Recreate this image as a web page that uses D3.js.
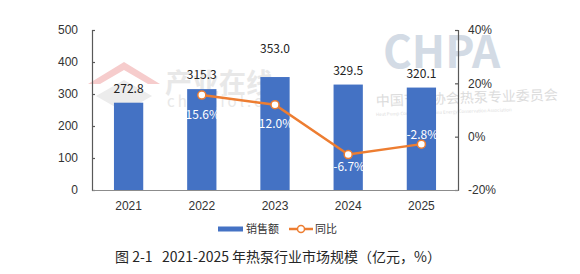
<!DOCTYPE html>
<html>
<head>
<meta charset="utf-8">
<script src="https://cdn.jsdelivr.net/npm/d3@7/dist/d3.min.js"></script>
<style>
  html, body { margin: 0; padding: 0; background: #fff; }
  svg { display: block; font-family: "Noto Sans CJK SC", "Noto Sans", sans-serif; }
</style>
</head>
<body>
<svg id="chart" width="580" height="274"></svg>
<script>
const years = ["2021", "2022", "2023", "2024", "2025"];
const sales = [272.8, 315.3, 353.0, 329.5, 320.1];
const growth = [null, 15.6, 12.0, -6.7, -2.8];
const leftTicks = [0, 100, 200, 300, 400, 500];
const rightTicks = [-20, 0, 20, 40];
const seriesNames = ["销售额", "同比"];
const caption = "图 2-1   2021-2025 年热泵行业市场规模（亿元，%）";

const svg = d3.select("#chart");
const L = 92, R = 458, T = 30, B = 190;
const blue = "#4472C4", orange = "#ED7D31";

const x = d3.scaleBand().domain(years).range([L, R]).paddingInner(0.6).paddingOuter(0.3);
const yL = d3.scaleLinear().domain([0, 500]).range([B, T]);
const yR = d3.scaleLinear().domain([-20, 40]).range([B, T]);

// watermarks (behind)
const wm = svg.append("g");
wm.append("path").attr("d", "M88,84 L124,62 L160,84 L148,84 L124,70 L100,84 Z").attr("fill", "#f6cccc");
wm.append("path").attr("d", "M96,96 L124,80 L152,96 L124,112 Z").attr("fill", "#ececec");
wm.append("text").attr("x", 165).attr("y", 93).attr("font-size", 27).attr("font-weight", "bold")
  .attr("fill", "#e8e8e8").text("产业在线");
wm.append("text").attr("x", 167).attr("y", 107).attr("font-size", 15).attr("letter-spacing", 3)
  .attr("fill", "#e8e8e8").text("chinaiol.com");
wm.append("text").attr("x", 383).attr("y", 68).attr("font-size", 44).attr("font-weight", "bold")
  .attr("fill", "#d3dbe5").text("CHPA");
wm.append("text").attr("x", 376).attr("y", 106).attr("font-size", 14)
  .attr("fill", "#dcdcdc").attr("transform", "rotate(-2,376,106)").text("中国节能协会热泵专业委员会");
wm.append("text").attr("x", 376).attr("y", 116).attr("font-size", 4.5)
  .attr("fill", "#dcdcdc").attr("transform", "rotate(-2,376,116)").text("Heat Pump Committee of China Energy Conservation Association");

// bars
svg.append("g").selectAll("rect").data(years).join("rect")
  .attr("x", d => x(d)).attr("width", x.bandwidth())
  .attr("y", (d, i) => yL(sales[i])).attr("height", (d, i) => yL(0) - yL(sales[i]))
  .attr("fill", blue);

// axes
const axL = svg.append("g").attr("transform", `translate(${L},0)`)
  .call(d3.axisLeft(yL).tickValues(leftTicks).tickSizeInner(-3).tickSizeOuter(-3).tickPadding(14));
const axR = svg.append("g").attr("transform", `translate(${R},0)`)
  .call(d3.axisRight(yR).tickValues(rightTicks).tickFormat(d => d + "%").tickSizeInner(-3).tickSizeOuter(-3).tickPadding(10));
const axB = svg.append("g").attr("transform", `translate(0,${B})`)
  .call(d3.axisBottom(x).tickSize(0).tickPadding(11));
[axL, axR].forEach(a => {
  a.selectAll("path, line").attr("stroke", "#595959").attr("stroke-width", 1.2);
});
axB.select("path").attr("stroke", "#8c8c8c").attr("stroke-width", 1.2);
[axL, axR, axB].forEach(a => {
  a.selectAll("text").attr("font-size", 12).attr("fill", "#333").attr("font-family", null);
});

// line
const pts = years.map((d, i) => ({ d, v: growth[i] })).filter(p => p.v !== null);
const line = d3.line().x(p => x(p.d) + x.bandwidth() / 2).y(p => yR(p.v));
svg.append("path").datum(pts).attr("d", line).attr("fill", "none")
  .attr("stroke", orange).attr("stroke-width", 2.5);
svg.append("g").selectAll("circle").data(pts).join("circle")
  .attr("cx", p => x(p.d) + x.bandwidth() / 2).attr("cy", p => yR(p.v)).attr("r", 4)
  .attr("fill", "#fff").attr("stroke", orange).attr("stroke-width", 1.5);

// value labels
const lift = [10, 10, 24, 10, 10];
svg.append("g").selectAll("text").data(years).join("text")
  .attr("x", d => x(d) + x.bandwidth() / 2).attr("y", (d, i) => yL(sales[i]) - lift[i])
  .attr("text-anchor", "middle").attr("font-size", 12).attr("fill", "#222")
  .text((d, i) => sales[i].toFixed(1));

const pdy = { "2022": 24, "2023": 23, "2024": 16, "2025": -5 };
svg.append("g").selectAll("text").data(pts).join("text")
  .attr("x", p => x(p.d) + x.bandwidth() / 2 + 1).attr("y", p => yR(p.v) + pdy[p.d])
  .attr("text-anchor", "middle").attr("font-size", 12).attr("fill", "#fff")
  .text(p => p.v.toFixed(1) + "%");

// legend
const lg = svg.append("g");
lg.append("rect").attr("x", 218).attr("y", 226.5).attr("width", 25).attr("height", 5).attr("fill", blue);
lg.append("text").attr("x", 246).attr("y", 233).attr("font-size", 11).attr("fill", "#333").text(seriesNames[0]);
lg.append("line").attr("x1", 289).attr("x2", 313).attr("y1", 229).attr("y2", 229)
  .attr("stroke", orange).attr("stroke-width", 2.5);
lg.append("circle").attr("cx", 301).attr("cy", 229).attr("r", 3.5)
  .attr("fill", "#fff").attr("stroke", orange).attr("stroke-width", 1.5);
lg.append("text").attr("x", 315).attr("y", 233).attr("font-size", 11).attr("fill", "#333").text(seriesNames[1]);

// caption
svg.append("text").attr("x", 115).attr("y", 262).attr("font-size", 14).attr("fill", "#262626")
  .attr("xml:space", "preserve").style("white-space", "pre").text(caption);
</script>
</body>
</html>
